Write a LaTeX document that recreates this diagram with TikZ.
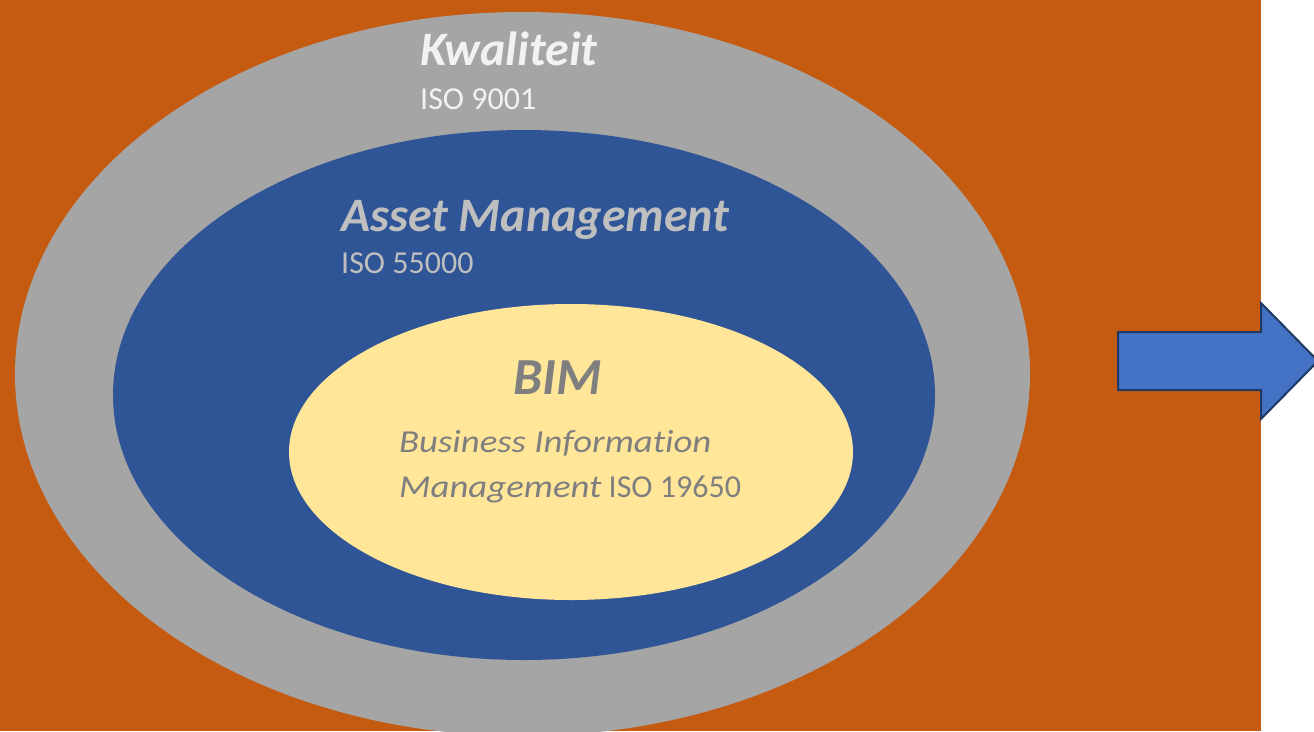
\documentclass[tikz,border=0pt]{standalone}
\usepackage{fontspec}
\setmainfont{Carlito}
\newfontfamily\wideit[FakeStretch=1.15, Ligatures=NoCommon]{Carlito}
\definecolor{rust}{HTML}{C55A11}
\definecolor{stone}{HTML}{A5A5A5}
\definecolor{navy}{HTML}{2F5597}
\definecolor{cream}{HTML}{FFE699}
\definecolor{arrowblue}{HTML}{4472C4}
\definecolor{arrowedge}{HTML}{1F3864}
\definecolor{snow}{HTML}{F2F2F2}
\definecolor{silver}{HTML}{BFBFBF}
\definecolor{ash}{HTML}{7F7F7F}
\begin{document}
\begin{tikzpicture}[x=1pt, y=-1pt,
  head/.style={anchor=base west, inner sep=0pt, font=\fontsize{48}{52}\selectfont\bfseries\itshape},
  iso/.style={anchor=base west, inner sep=0pt, font=\fontsize{32}{36}\selectfont}]
\useasboundingbox (0,0) rectangle (1314,731);
\clip (0,0) rectangle (1314,731);
\fill[rust] (0,0) rectangle (1261,731); %background
\fill[stone] (522.5,374) ellipse (507.5pt and 362pt); %grey ellipse
\fill[navy] (524,395) ellipse (411pt and 265pt); %blue ellipse
\fill[cream] (571,452) ellipse (282pt and 148pt); %yellow ellipse
\node[head, text=snow] (kwal) at (420,65.7) {Kwaliteit};
\node[iso, text=snow] (kwaliso) at (420,109) {ISO 9001};
\node[head, text=silver] (asset) at (341,231) {Asset Management};
\node[iso, text=silver] (assetiso) at (341,273) {ISO 55000};
\node[head, text=ash, font=\fontsize{52}{56}\selectfont\bfseries\itshape] (bim) at (513,394) {BIM};
\node[iso, text=ash] (bimone) at (399,452) {\wideit\itshape Business Information};
\node[iso, text=ash] (bimtwo) at (399,497) {{\wideit\itshape Management} ISO 19650};
\coordinate (P1) at (1118,332);
\coordinate (P2) at (1261,332);
\coordinate (P3) at (1261,303);
\coordinate (P4) at (1318,361);
\coordinate (P5) at (1261,419);
\coordinate (P6) at (1261,390);
\coordinate (P7) at (1118,390);
\draw[line width=2pt, draw=arrowedge, fill=arrowblue, line join=miter]
  (P1) -- (P2) -- (P3) -- (P4) -- (P5) -- (P6) -- (P7) -- cycle; %arrow
\end{tikzpicture}
\end{document}
